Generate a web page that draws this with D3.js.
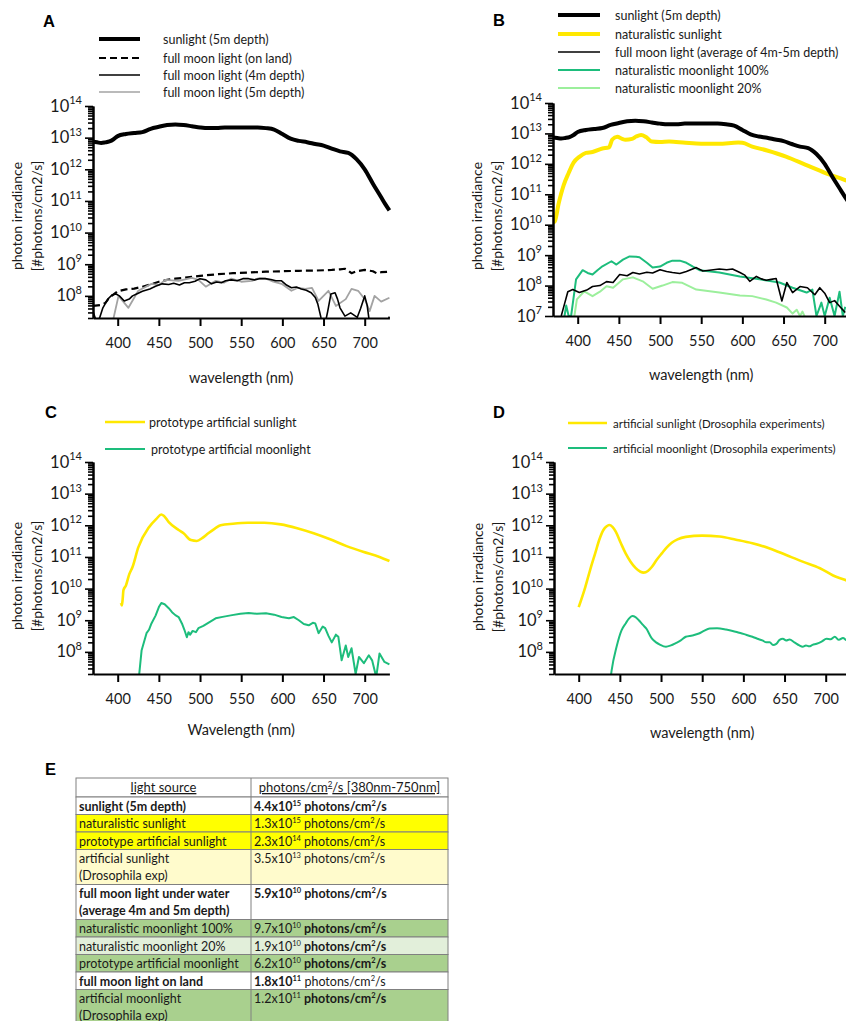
<!DOCTYPE html>
<html>
<head>
<meta charset="utf-8">
<script src="https://cdn.jsdelivr.net/npm/d3@7"></script>
<style>
  body { margin: 0; background: #fff; }
  text { font-family: Lato, "Open Sans", sans-serif; fill: #1a1a1a; }
  .letter { font-family: "Liberation Sans", Arial, sans-serif; font-weight: bold; fill: #000; }
</style>
</head>
<body>
<svg id="fig" width="846" height="1021"></svg>
<script>
// ---------- data ----------
const xTicks = [400, 450, 500, 550, 600, 650, 700];
const expsA = [8, 9, 10, 11, 12, 13, 14];
const expsB = [7, 8, 9, 10, 11, 12, 13, 14];

// sunlight at 5 m depth (panels A and B)
const sunWl  = [370,375,380,385,390,395,400,410,420,430,440,450,460,470,480,490,500,510,520,530,540,550,560,570,580,590,600,610,620,630,640,650,660,670,680,690,700,710,720,725,730];
const sunVal = [7.4e12,7.1e12,6.8e12,7.1e12,7.6e12,8.9e12,1.12e13,1.3e13,1.4e13,1.5e13,1.9e13,2.2e13,2.5e13,2.6e13,2.5e13,2.3e13,2.1e13,2.0e13,2.0e13,2.1e13,2.1e13,2.1e13,2.1e13,2.1e13,2.0e13,1.8e13,1.3e13,9.3e12,7.9e12,7.2e12,6.3e12,5.6e12,4.5e12,3.7e12,3.3e12,2.1e12,1.0e12,3.5e11,1.3e11,7.9e10,5.0e10];

// full moon light on land (A, dashed)
const moonLandWl  = [370,380,385,390,400,410,420,430,440,450,460,470,480,490,500,520,540,560,580,600,620,640,660,670,676,680,684,690,700,710,715,720,730];
const moonLandVal = [4.8e7,5.2e7,6.0e7,8.9e7,1.4e8,1.6e8,1.7e8,1.95e8,2.3e8,2.8e8,3.2e8,3.5e8,3.7e8,4.0e8,4.3e8,4.8e8,5.2e8,5.5e8,5.8e8,6.0e8,6.2e8,6.3e8,6.6e8,6.9e8,7.2e8,6.3e8,5.2e8,6.0e8,6.6e8,6.0e8,5.1e8,5.6e8,5.8e8];

// full moon light at 4 m depth (A, thin black)
const moon4Wl  = [370,374,378,382,388,393,398,402,408,414,418,423,430,439,446,454,462,468,475,481,487,494,500,507,514,520,526,531,538,545,552,559,566,572,579,586,592,599,605,611,617,623,629,635,640,643,647,651,655,659,664,667,670,676,683,691,695,700,703,706,712,720,726,730];
const moon4Val = [3.2e7,1.6e7,2.0e7,4.2e7,7.9e7,1.07e8,1.15e8,1.0e8,6.9e7,7.9e7,1.0e8,1.15e8,1.4e8,1.66e8,2.0e8,2.4e8,2.3e8,2.5e8,2.2e8,2.6e8,2.6e8,2.9e8,3.5e8,3.2e8,2.4e8,2.75e8,2.6e8,3.0e8,3.2e8,3.0e8,3.5e8,3.5e8,3.2e8,3.5e8,3.5e8,3.3e8,3.0e8,3.0e8,2.2e8,1.8e8,1.9e8,1.66e8,1.5e8,1.26e8,8.9e7,5.6e7,2.0e7,1.0e7,3.2e7,1.15e8,1.26e8,7.9e7,4.2e7,2.3e7,2.9e7,2.1e7,4.0e7,1.0e8,5.0e7,1.3e7,1.0e7,1.0e7,1.3e7,2.2e7];

// full moon light at 5 m depth (A, grey)
const moon5Wl  = [370,389,395,401,413,425,441,450,458,474,490,498,507,519,529,538,550,563,571,580,589,599,611,619,628,636,644,656,665,677,684,692,700,706,712,720,730];
const moon5Val = [1.0e7,1.0e7,2.0e7,1.0e8,4.2e7,1.45e8,2.4e8,2.2e8,3.2e8,3.0e8,3.7e8,3.2e8,1.95e8,3.0e8,2.6e8,3.5e8,2.8e8,3.0e8,3.55e8,3.5e8,2.8e8,2.4e8,1.45e8,1.8e8,1.66e8,1.8e8,6.9e7,1.45e8,4.8e7,7.9e7,1.66e8,1.45e8,7.9e7,3.3e7,1.0e8,6.6e7,8.7e7];

// naturalistic sunlight (B, yellow)
const natSunWl  = [370,372,377,383,389,395,402,410,418,430,438,442,448,454,458,466,471,477,483,490,500,511,531,550,571,595,600,612,630,653,677,701,724,730];
const natSunVal = [1.2e10,1.26e10,5.2e10,2.0e11,5.0e11,1.1e12,1.7e12,2.3e12,2.45e12,3.2e12,3.5e12,6.3e12,7.8e12,6.6e12,6.2e12,6.6e12,7.9e12,8.9e12,7.6e12,5.4e12,5.2e12,5.4e12,4.9e12,4.6e12,4.6e12,5.0e12,4.9e12,3.7e12,2.75e12,1.74e12,9.3e11,5.0e11,3.0e11,2.6e11];

// full moon light, average of 4 m and 5 m depth (B, thin black)
const moonAvgWl  = [380,384,388,394,402,411,418,427,435,443,451,460,467,475,484,491,500,508,515,524,532,544,552,560,572,581,588,597,603,609,617,623,629,635,641,648,654,661,670,679,688,694,700,706,712,718,725];
const moonAvgVal = [1.0e7,2.5e7,6.3e7,7.4e7,5.9e7,7.1e7,9.3e7,1.0e8,1.35e8,1.26e8,2.3e8,2.1e8,2.7e8,2.4e8,2.75e8,2.6e8,3.3e8,2.9e8,2.7e8,2.5e8,2.9e8,3.9e8,3.0e8,3.2e8,3.5e8,3.3e8,3.5e8,2.7e8,2.2e8,1.38e8,2.0e8,1.66e8,1.5e8,1.6e8,1.7e8,3.1e7,1.26e8,5.9e7,9.3e7,8.5e7,5.0e7,8.5e7,5.6e7,2.75e7,3.2e7,2.1e7,1.3e7];

// naturalistic moonlight 100% (B, green)
const natMoonWl  = [384,386,389,392,396,398,406,412,418,424,430,441,447,455,463,471,475,484,491,500,508,515,524,532,540,548,572,597,621,645,661,678,685,690,696,700,706,712,718,722,725];
const natMoonVal = [1.0e7,2.2e7,1.0e7,1.0e7,6.3e7,1.6e8,3.2e8,2.6e8,2.3e8,3.2e8,4.3e8,6.3e8,4.9e8,7.1e8,9.1e8,8.9e8,8.5e8,5.6e8,3.9e8,4.2e8,5.6e8,6.6e8,6.6e8,5.6e8,4.2e8,3.2e8,2.7e8,2.0e8,1.6e8,1.26e8,8.5e7,5.9e7,7.4e7,1.0e7,2.75e7,1.0e7,4.0e7,1.0e7,6.3e7,1.0e7,2.0e7];

// naturalistic moonlight 20% (B, light green)
const natMoon20Wl  = [396,399,408,418,427,435,443,455,467,479,491,503,515,527,544,572,597,612,629,641,654,661,666,670,673,677];
const natMoon20Val = [1.0e7,3.5e7,6.5e7,4.5e7,6.3e7,9.5e7,8.5e7,1.6e8,1.86e8,1.38e8,7.9e7,1.0e8,1.3e8,1.23e8,7.4e7,5.9e7,4.7e7,4.5e7,3.5e7,2.75e7,1.9e7,1.2e7,1.6e7,1.0e7,1.4e7,8.0e6];

// prototype artificial sunlight (C, yellow)
const protoSunWl  = [404,405,406,407,410,414,418,425,438,447,453,456,462,474,480,489,496,503,510,518,525,540,558,578,598,618,638,658,678,698,718,730];
const protoSunVal = [3.5e9,2.95e9,4.5e9,8.9e9,1.26e10,2.8e10,4.8e10,2.0e11,8.7e11,1.6e12,2.2e12,2.0e12,1.26e12,7.1e11,5.6e11,3.4e11,3.2e11,4.0e11,5.6e11,7.9e11,1.0e12,1.12e12,1.2e12,1.2e12,1.07e12,8.1e11,5.6e11,3.6e11,2.2e11,1.45e11,1.0e11,7.4e10];

// prototype artificial moonlight (C, green)
const protoMoonWl  = [425,429,435,438,441,446,450,453,457,462,466,470,474,478,481,484,486,488,491,495,498,504,510,519,529,539,549,559,569,580,590,599,608,614,620,626,632,637,640,644,649,652,656,660,665,668,672,677,680,684,689,693,699,705,709,714,718,724,730];
const protoMoonVal = [1.0e7,1.1e8,3.9e8,5.0e8,7.9e8,1.4e9,2.6e9,3.5e9,3.2e9,2.4e9,1.8e9,1.45e9,1.26e9,7.9e8,5.0e8,2.9e8,4.2e8,3.5e8,4.6e8,4.2e8,5.6e8,6.6e8,8.3e8,1.15e9,1.3e9,1.45e9,1.6e9,1.7e9,1.6e9,1.66e9,1.5e9,1.26e9,1.15e9,1.26e9,1.0e9,7.6e8,6.9e8,8.3e8,7.9e8,3.9e8,6.3e8,5.6e8,3.2e8,2.0e8,3.5e8,3.0e8,5.4e7,1.6e8,6.9e7,1.3e8,2.0e7,6.9e7,4.4e7,7.8e7,5.4e7,1.6e7,8.9e7,4.8e7,4.0e7];

// artificial sunlight, Drosophila experiments (D, yellow)
const droSunWl  = [400,408,414,420,425,430,434,437,441,445,451,457,463,469,475,479,484,489,495,501,507,513,520,530,550,571,591,611,632,652,672,693,709,724,730];
const droSunVal = [2.6e9,1.12e10,4.0e10,1.3e11,3.5e11,7.1e11,9.3e11,1.02e12,8.9e11,6.3e11,2.8e11,1.3e11,7.1e10,4.5e10,3.4e10,3.2e10,3.6e10,4.9e10,8.3e10,1.3e11,2.0e11,2.8e11,3.6e11,4.3e11,4.7e11,4.4e11,3.5e11,2.7e11,1.86e11,1.15e11,7.1e10,4.4e10,2.6e10,1.86e10,1.6e10];

// artificial moonlight, Drosophila experiments (D, green)
const droMoonWl  = [438,440,446,452,457,461,465,469,473,478,482,489,494,498,506,512,518,524,530,538,546,552,559,568,579,587,595,603,611,617,623,628,632,636,640,644,648,652,656,662,668,672,676,680,684,689,695,701,706,711,716,721,726,730];
const droMoonVal = [1.0e7,2.6e7,1.45e8,4.8e8,7.9e8,1.12e9,1.35e9,1.26e9,1.0e9,7.1e8,5.5e8,2.6e8,2.0e8,1.74e8,1.45e8,1.6e8,1.9e8,2.3e8,3.0e8,3.3e8,3.8e8,4.6e8,5.5e8,5.6e8,5.1e8,4.6e8,4.0e8,3.5e8,3.0e8,2.6e8,2.3e8,2.0e8,2.0e8,1.66e8,1.8e8,2.4e8,2.6e8,2.3e8,2.45e8,2.0e8,1.6e8,1.45e8,1.6e8,1.5e8,1.66e8,1.8e8,2.1e8,2.6e8,2.5e8,3.0e8,2.4e8,2.75e8,2.3e8,2.5e8];

// table E
const tblLabels = [["sunlight (5m depth)"],["naturalistic sunlight"],["prototype artificial sunlight"],["artificial sunlight","(Drosophila exp)"],["full moon light under water","(average 4m and 5m depth)"],["naturalistic moonlight 100%"],["naturalistic moonlight 20%"],["prototype artificial moonlight"],["full moon light on land"],["artificial moonlight","(Drosophila exp)"]];
const tblMantissa = ["4.4","1.3","2.3","3.5","5.9","9.7","1.9","6.2","1.8","1.2"];
const tblExponent = ["15","15","14","13","10","10","10","10","11","11"];
const tblFill = ["#ffffff","#ffff00","#ffff00","#fffbcc","#ffffff","#a9d08e","#e2efda","#a9d08e","#ffffff","#a9d08e"];
const tblLabelBold = [true,false,false,false,true,false,false,false,true,false];
const tblNumBold   = [true,false,false,false,true,false,false,false,true,false];
const tblUnitBold  = [true,false,false,false,true,true,true,true,false,true];

// ---------- drawing ----------
const svg = d3.select("#fig");
const YELLOW = "#ffe800", GREEN = "#1dbd7c", LIGHTGREEN = "#9cef9c";

function panel(cfg) {
  const x = d3.scaleLinear().domain([370, 730]).range([cfg.x0, cfg.x0 + 296.4]);
  const y = d3.scaleLog().domain([cfg.yMin, 1e14]).range([cfg.yBot, cfg.yTop]);
  const g = svg.append("g");

  const clipId = "clip" + cfg.name;
  svg.append("clipPath").attr("id", clipId)
    .append("rect")
    .attr("x", cfg.x0).attr("y", cfg.yTop - 20)
    .attr("width", 300).attr("height", cfg.yBot - cfg.yTop + 20);

  const plot = g.append("g").attr("clip-path", `url(#${clipId})`);
  cfg.series.forEach(s => {
    const pts = s.wl.map((w, i) => [w, s.val[i]]);
    const line = d3.line().x(d => x(d[0])).y(d => y(d[1])).curve(s.curve || d3.curveLinear);
    plot.append("path")
      .attr("d", line(pts))
      .attr("fill", "none")
      .attr("stroke", s.color)
      .attr("stroke-width", s.width)
      .attr("stroke-dasharray", s.dash || null)
      .attr("stroke-linejoin", "round");
  });

  // y axis: minor + major ticks
  const majors = cfg.exps.map(e => +("1e" + e));
  const minors = y.ticks().filter(v => !majors.some(m => Math.abs(m - v) / m < 1e-6));
  const yMinor = g.append("g").attr("transform", `translate(${cfg.x0},0)`)
    .call(d3.axisLeft(y).tickValues(minors).tickSize(5).tickSizeOuter(0).tickFormat(""));
  const yMajor = g.append("g").attr("transform", `translate(${cfg.x0},0)`)
    .call(d3.axisLeft(y).tickValues(majors).tickSize(8).tickSizeOuter(0).tickFormat(""));
  [yMinor, yMajor].forEach(a => {
    a.select(".domain").attr("stroke", "#000").attr("stroke-width", 2);
    a.selectAll(".tick line").attr("stroke", "#000").attr("stroke-width", 1.6);
  });
  cfg.exps.forEach(e => {
    const t = g.append("text")
      .attr("x", cfg.x0 - 11).attr("y", y(+("1e" + e)) + 5.5)
      .attr("text-anchor", "end").attr("font-size", 16.5);
    t.append("tspan").text("10");
    t.append("tspan").attr("font-size", 11).attr("dy", -7.5).text(e);
  });

  // x axis
  const xa = g.append("g").attr("transform", `translate(0,${cfg.yBot})`)
    .call(d3.axisBottom(x).tickValues(xTicks).tickSize(8).tickSizeOuter(0).tickPadding(12));
  xa.select(".domain").attr("stroke", "#000").attr("stroke-width", 2);
  xa.selectAll(".tick line").attr("stroke", "#000").attr("stroke-width", 2);
  xa.selectAll(".tick text").attr("font-size", 14.5).attr("font-family", "Lato, sans-serif").attr("fill", "#1a1a1a");

  // titles
  g.append("text").attr("transform", `translate(${cfg.x0 - 71},${cfg.yMid}) rotate(-90)`)
    .attr("text-anchor", "middle").attr("font-size", 14).text("photon irradiance");
  g.append("text").attr("transform", `translate(${cfg.x0 - 51},${cfg.yMid}) rotate(-90)`)
    .attr("text-anchor", "middle").attr("font-size", 14).text("[#photons/cm2/s]");
  g.append("text").attr("x", x(cfg.xTitleAt)).attr("y", cfg.xTitleY)
    .attr("text-anchor", "middle").attr("font-size", 14.5).text(cfg.xTitle);

  // letter
  g.append("text").attr("class", "letter").attr("x", cfg.letterX).attr("y", cfg.letterY)
    .attr("font-size", 16.5).text(cfg.name);

  // legend
  cfg.legend.forEach(l => {
    g.append("line").attr("x1", l.x1).attr("x2", l.x2).attr("y1", l.y).attr("y2", l.y)
      .attr("stroke", l.s.color).attr("stroke-width", l.s.width)
      .attr("stroke-dasharray", l.s.dash || null);
    g.append("text").attr("x", l.tx).attr("y", l.y + 4.5).attr("font-size", l.fs || 12.5).text(l.label);
  });
}

const sSun = { wl: sunWl, val: sunVal, color: "#000", width: 4, curve: d3.curveMonotoneX };
const sMoonLand = { wl: moonLandWl, val: moonLandVal, color: "#000", width: 2.2, dash: "7,4" };
const sMoon4 = { wl: moon4Wl, val: moon4Val, color: "#000", width: 1.6 };
const sMoon5 = { wl: moon5Wl, val: moon5Val, color: "#a3a3a3", width: 1.8 };
const sNatSun = { wl: natSunWl, val: natSunVal, color: YELLOW, width: 4, curve: d3.curveMonotoneX };
const sMoonAvg = { wl: moonAvgWl, val: moonAvgVal, color: "#000", width: 1.6 };
const sNatMoon = { wl: natMoonWl, val: natMoonVal, color: GREEN, width: 2 };
const sNatMoon20 = { wl: natMoon20Wl, val: natMoon20Val, color: LIGHTGREEN, width: 2 };
const sProtoSun = { wl: protoSunWl, val: protoSunVal, color: YELLOW, width: 2.6, curve: d3.curveMonotoneX };
const sProtoMoon = { wl: protoMoonWl, val: protoMoonVal, color: GREEN, width: 2 };
const sDroSun = { wl: droSunWl, val: droSunVal, color: YELLOW, width: 2.6, curve: d3.curveMonotoneX };
const sDroMoon = { wl: droMoonWl, val: droMoonVal, color: GREEN, width: 2, curve: d3.curveMonotoneX };

panel({
  name: "A", x0: 93, yTop: 106, yBot: 318, yMin: 2e7, yMid: 216, exps: expsA,
  xTitle: "wavelength (nm)", xTitleAt: 550, xTitleY: 383, letterX: 43, letterY: 27,
  series: [sMoonLand, sMoon5, sMoon4, sSun],
  legend: [
    { x1: 99, x2: 140, y: 39, tx: 163, s: sSun, label: "sunlight (5m  depth)" },
    { x1: 99, x2: 140, y: 58, tx: 163, s: sMoonLand, label: "full moon light (on land)" },
    { x1: 99, x2: 140, y: 75, tx: 163, s: sMoon4, label: "full moon light (4m  depth)" },
    { x1: 99, x2: 140, y: 92, tx: 163, s: { color: "#a3a3a3", width: 1.6 }, label: "full moon light (5m  depth)" }
  ]
});

panel({
  name: "B", x0: 553, yTop: 103, yBot: 316, yMin: 1e7, yMid: 216, exps: expsB,
  xTitle: "wavelength (nm)", xTitleAt: 550, xTitleY: 380, letterX: 493, letterY: 26,
  series: [sNatMoon20, sNatMoon, sMoonAvg, sNatSun, sSun],
  legend: [
    { x1: 558, x2: 600, y: 15, tx: 615, s: sSun, label: "sunlight (5m depth)" },
    { x1: 558, x2: 600, y: 34, tx: 615, s: sNatSun, label: "naturalistic sunlight" },
    { x1: 558, x2: 600, y: 52, tx: 615, s: sMoonAvg, label: "full moon light (average of 4m-5m depth)" },
    { x1: 558, x2: 600, y: 70, tx: 615, s: sNatMoon, label: "naturalistic moonlight 100%" },
    { x1: 558, x2: 600, y: 88, tx: 615, s: sNatMoon20, label: "naturalistic moonlight 20%" }
  ]
});

panel({
  name: "C", x0: 93, yTop: 462, yBot: 674, yMin: 2e7, yMid: 576, exps: expsA,
  xTitle: "Wavelength (nm)", xTitleAt: 550, xTitleY: 735, letterX: 45, letterY: 418,
  series: [sProtoMoon, sProtoSun],
  legend: [
    { x1: 105, x2: 145, y: 422, tx: 149, s: sProtoSun, label: "prototype artificial sunlight" },
    { x1: 105, x2: 145, y: 449, tx: 151, s: sProtoMoon, label: "prototype artificial moonlight" }
  ]
});

panel({
  name: "D", x0: 554, yTop: 462, yBot: 674, yMin: 2e7, yMid: 577, exps: expsA,
  xTitle: "wavelength (nm)", xTitleAt: 550, xTitleY: 738, letterX: 493, letterY: 418,
  series: [sDroMoon, sDroSun],
  legend: [
    { x1: 568, x2: 607, y: 423, tx: 613, s: sDroSun, label: "artificial sunlight (Drosophila experiments)", fs: 11.5 },
    { x1: 568, x2: 607, y: 448, tx: 613, s: sDroMoon, label: "artificial moonlight (Drosophila experiments)", fs: 11.5 }
  ]
});

// ---------- table E ----------
(function table() {
  const left = 76, mid = 251, right = 448, top = 778, headH = 19;
  const rowH = tblLabels.map(l => l.length > 1 ? 35 : 17.5);
  const g = svg.append("g");
  g.append("text").attr("class", "letter").attr("x", 45).attr("y", 775).attr("font-size", 16.5).text("E");

  // header
  g.append("rect").attr("x", left).attr("y", top).attr("width", right - left).attr("height", headH)
    .attr("fill", "#fff").attr("stroke", "#808080");
  g.append("text").attr("x", (left + mid) / 2).attr("y", top + 14).attr("text-anchor", "middle")
    .attr("font-size", 13).attr("text-decoration", "underline").text("light source");
  const h2 = g.append("text").attr("x", (mid + right) / 2).attr("y", top + 14).attr("text-anchor", "middle")
    .attr("font-size", 13).attr("text-decoration", "underline");
  h2.append("tspan").text("photons/cm");
  h2.append("tspan").attr("font-size", 8).attr("dy", -5).text("2");
  h2.append("tspan").attr("dy", 5).text("/s [380nm-750nm]");

  let yy = top + headH;
  tblLabels.forEach((lab, i) => {
    const h = rowH[i];
    g.append("rect").attr("x", left).attr("y", yy).attr("width", right - left).attr("height", h)
      .attr("fill", tblFill[i]).attr("stroke", "#808080");
    lab.forEach((s, j) => {
      g.append("text").attr("x", left + 3).attr("y", yy + 13.5 + j * 16.5)
        .attr("font-size", 12.5).attr("font-weight", tblLabelBold[i] ? "bold" : "normal").text(s);
    });
    const t = g.append("text").attr("x", mid + 3).attr("y", yy + 13.5).attr("font-size", 12.5);
    const nb = tblNumBold[i] ? "bold" : "normal", ub = tblUnitBold[i] ? "bold" : "normal";
    t.append("tspan").attr("font-weight", nb).text(tblMantissa[i] + "x10");
    t.append("tspan").attr("font-weight", nb).attr("font-size", 7.5).attr("dy", -5).text(tblExponent[i]);
    t.append("tspan").attr("font-weight", ub).attr("dy", 5).text(" photons/cm");
    t.append("tspan").attr("font-weight", ub).attr("font-size", 7.5).attr("dy", -5).text("2");
    t.append("tspan").attr("font-weight", ub).attr("dy", 5).text("/s");
    yy += h;
  });
  g.append("line").attr("x1", mid).attr("x2", mid).attr("y1", top).attr("y2", yy).attr("stroke", "#808080");
})();
</script>
</body>
</html>
